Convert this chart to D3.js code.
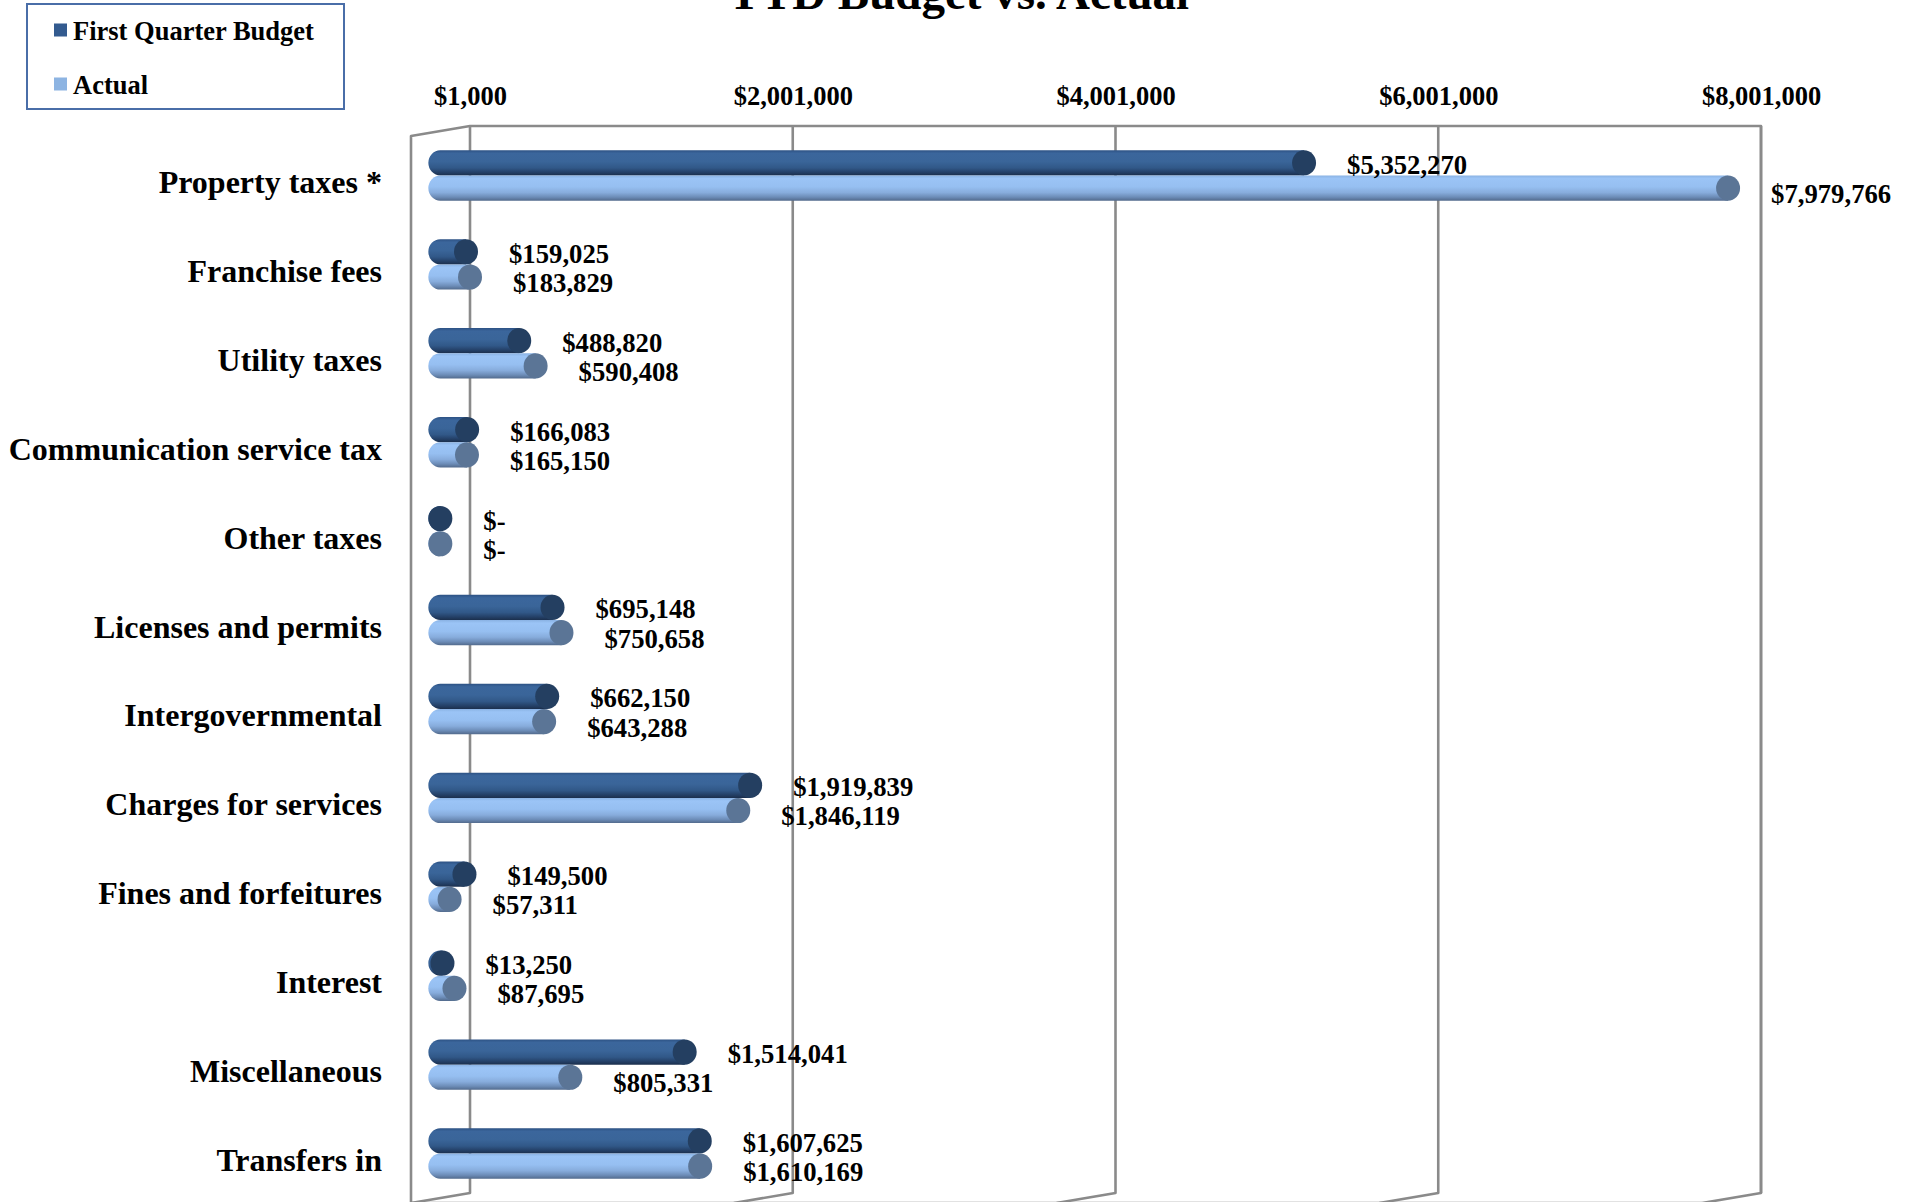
<!DOCTYPE html>
<html>
<head>
<meta charset="utf-8">
<script src="https://cdn.jsdelivr.net/npm/d3@7"></script>
<style>
  html, body { margin: 0; padding: 0; background: #fff; overflow: hidden; }
  svg { display: block; font-family: "Liberation Serif", "Times New Roman", serif; font-weight: bold; }
</style>
</head>
<body>
<svg id="chart" width="1906" height="1202"></svg>
<script>
// Revenue categories, top to bottom
const categories = [
  "Property taxes *", "Franchise fees", "Utility taxes", "Communication service tax",
  "Other taxes", "Licenses and permits", "Intergovernmental", "Charges for services",
  "Fines and forfeitures", "Interest", "Miscellaneous", "Transfers in"
];
// First quarter budget and year-to-date actual, in dollars
const budget = [5352270, 159025, 488820, 166083, 0, 695148, 662150, 1919839, 149500, 13250, 1514041, 1607625];
const actual = [7979766, 183829, 590408, 165150, 0, 750658, 643288, 1846119, 57311, 87695, 805331, 1610169];
const seriesNames = ["First Quarter Budget", "Actual"];
const tickValues = [1000, 2001000, 4001000, 6001000, 8001000];

const svg = d3.select("#chart");

// Back wall of the 3-D plot area and the depth offset toward the viewer
const wall = { x0: 470, x1: 1761, y0: 126, y1: 1193 };
const depth = { dx: -59, dy: 10 };

const x = d3.scaleLinear().domain([1000, 8001000]).range([wall.x0, wall.x1]);
const y = d3.scaleBand().domain(categories).range([wall.y0, wall.y1]);

const money = v => v === 0 ? "$-" : "$" + d3.format(",")(v);

const series = [
  { name: seriesNames[0], values: budget, body: "gBudget", cap: "#243f61", key: "#335b8f", labelDy: 2 },
  { name: seriesNames[1], values: actual, body: "gActual", cap: "#5b7596", key: "#8db4e2", labelDy: 6 }
];

// Cylinder shading
const defs = svg.append("defs");
function cylGrad(id, stops) {
  const g = defs.append("linearGradient").attr("id", id)
    .attr("x1", 0).attr("y1", 0).attr("x2", 0).attr("y2", 1);
  stops.forEach(([o, c]) => g.append("stop").attr("offset", o).attr("stop-color", c));
}
cylGrad("gBudget", [[0, "#2d5284"], [0.12, "#3b669c"], [0.45, "#3a6599"], [0.7, "#315888"], [0.86, "#25426a"], [1, "#1b2f4d"]]);
cylGrad("gActual", [[0, "#8ab2e3"], [0.12, "#9bc4f6"], [0.45, "#96bff1"], [0.68, "#87acdc"], [0.86, "#6c8cb7"], [1, "#526a8c"]]);

// Title
svg.append("text")
  .attr("x", 958).attr("y", 9)
  .attr("text-anchor", "middle")
  .attr("font-size", 47)
  .text("YTD Budget vs. Actual");

// Walls and floor
const frame = svg.append("g").attr("fill", "none").attr("stroke", "#8a8a8a").attr("stroke-width", 2.6)
  .attr("stroke-linejoin", "round");
frame.append("path").attr("fill", "#fff").attr("d",
  `M${wall.x0 + depth.dx},${wall.y1 + depth.dy} L${wall.x0 + depth.dx},${wall.y0 + depth.dy} L${wall.x0},${wall.y0} L${wall.x1},${wall.y0} L${wall.x1},${wall.y1}`);

// Gridlines on back wall, continuing across the floor
tickValues.forEach(t => {
  const gx = x(t);
  frame.append("path").attr("d",
    `M${gx},${wall.y0} L${gx},${wall.y1} L${gx + depth.dx},${wall.y1 + depth.dy}`);
});
frame.append("path").attr("d",
  `M${wall.x0 + depth.dx},${wall.y1 + depth.dy} L${wall.x1 + depth.dx},${wall.y1 + depth.dy}`);

// Value axis along the top
const axis = d3.axisTop(x).tickValues(tickValues).tickSize(0).tickPadding(0).tickFormat(money);
const axisG = svg.append("g").attr("transform", "translate(0,96)").call(axis);
axisG.select(".domain").remove();
axisG.selectAll("text")
  .attr("y", 0).attr("dy", null)
  .attr("dominant-baseline", "central")
  .attr("font-family", "Liberation Serif, serif")
  .attr("font-weight", "bold")
  .attr("font-size", 26.5)
  .attr("fill", "#000");

// Category labels on the front-left edge
svg.append("g").selectAll("text").data(categories).join("text")
  .attr("x", 382)
  .attr("y", c => y(c) + y.bandwidth() / 2 + depth.dy + 1.5)
  .attr("text-anchor", "end")
  .attr("dominant-baseline", "central")
  .attr("font-size", 32)
  .text(c => c);

// Cylinder bars, set at mid-depth
const r = 12.6, capRx = 12;
const bars = svg.append("g");
const labels = svg.append("g").attr("font-size", 26.7);
series.forEach((s, si) => {
  const rows = categories.map((c, i) => {
    const cy = y(c) + y.bandwidth() / 2 + depth.dy / 2 + (si === 0 ? -r : r);
    const x0 = x(0) + depth.dx / 2;
    const x1 = x(s.values[i]) + depth.dx / 2;
    return { c, v: s.values[i], cy, x0, x1 };
  });
  const g = bars.append("g");
  g.selectAll("path").data(rows).join("path")
    .attr("fill", `url(#${s.body})`)
    .attr("d", d => `M${d.x1},${d.cy - r} L${d.x0},${d.cy - r} A${capRx},${r} 0 0 0 ${d.x0},${d.cy + r} L${d.x1},${d.cy + r} Z`);
  g.selectAll("ellipse").data(rows).join("ellipse")
    .attr("cx", d => d.x1).attr("cy", d => d.cy)
    .attr("rx", capRx).attr("ry", r)
    .attr("fill", s.cap);
  labels.append("g").selectAll("text").data(rows).join("text")
    .attr("x", d => d.x1 + capRx + 31)
    .attr("y", d => d.cy + s.labelDy)
    .attr("dominant-baseline", "central")
    .text(d => money(d.v));
});

// Legend
const lg = svg.append("g");
lg.append("rect").attr("x", 27).attr("y", 4).attr("width", 317).attr("height", 105)
  .attr("fill", "#fff").attr("stroke", "#4a6ea8").attr("stroke-width", 2);
series.forEach((s, i) => {
  const cy = 30 + i * 54;
  lg.append("rect").attr("x", 54).attr("y", cy - 6.5).attr("width", 13).attr("height", 13).attr("fill", s.key);
  lg.append("text").attr("x", 73).attr("y", cy + 1)
    .attr("dominant-baseline", "central").attr("font-size", 26.5).text(s.name);
});
</script>
</body>
</html>
